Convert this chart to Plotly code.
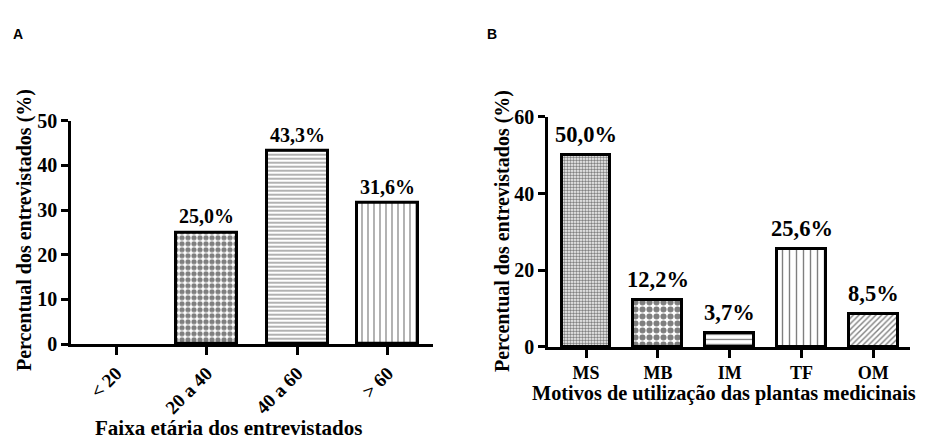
import plotly.graph_objects as go

# Panel A data
age_groups = ["< 20", "20 a 40", "40 a 60", "> 60"]
age_values = [0, 25.0, 43.3, 31.6]
age_labels = ["", "25,0%", "43,3%", "31,6%"]
age_ticks = [0, 10, 20, 30, 40, 50]

# Panel B data
reasons = ["MS", "MB", "IM", "TF", "OM"]
reason_values = [50.0, 12.2, 3.7, 25.6, 8.5]
reason_labels = ["50,0%", "12,2%", "3,7%", "25,6%", "8,5%"]
reason_ticks = [0, 20, 40, 60]

FONT = "Liberation Serif"
W, H = 926, 446
OFF = 8  # page body margin


def px(x):
    return (x - OFF) / W


def py(y):
    return 1 - (y - OFF) / H


# patterns (styles)
age_patterns = [".", ".", "-", "|"]
age_psize = [6, 6, 4, 6]
age_psol = [0.6, 0.6, 0.3, 0.2]
reason_patterns = [".", ".", "-", "|", "/"]
reason_psize = [3, 7, 5, 7, 4]
reason_psol = [0.55, 0.6, 0.25, 0.2, 0.35]

fig = go.Figure()

fig.add_trace(go.Bar(
    x=list(range(len(age_groups))), y=age_values, width=0.67,
    marker=dict(color="white",
                line=dict(color="black", width=[0 if v == 0 else 3 for v in age_values]),
                pattern=dict(shape=age_patterns, size=age_psize, solidity=age_psol,
                             fgcolor="black", bgcolor="white", fillmode="overlay")),
    xaxis="x", yaxis="y", showlegend=False, hoverinfo="skip"))

fig.add_trace(go.Bar(
    x=list(range(len(reasons))), y=reason_values, width=0.68,
    marker=dict(color="white", line=dict(color="black", width=3),
                pattern=dict(shape=reason_patterns, size=reason_psize, solidity=reason_psol,
                             fgcolor="black", bgcolor="white", fillmode="overlay")),
    xaxis="x2", yaxis="y2", showlegend=False, hoverinfo="skip"))

axis_common = dict(showline=True, linecolor="black", linewidth=2.5, ticks="outside",
                   tickcolor="black", tickwidth=2.5, showgrid=False, zeroline=False)

annotations = []
for i, (v, t) in enumerate(zip(age_values, age_labels)):
    if t:
        annotations.append(dict(x=i, y=v, xref="x", yref="y", text="<b>%s</b>" % t,
                                showarrow=False, yanchor="bottom", yshift=3,
                                font=dict(family=FONT, size=20, color="black")))
for i, (v, t) in enumerate(zip(reason_values, reason_labels)):
    annotations.append(dict(x=i, y=v, xref="x2", yref="y2", text="<b>%s</b>" % t,
                            showarrow=False, yanchor="bottom", yshift=6,
                            font=dict(family=FONT, size=22.5, color="black")))

# titles and panel letters
annotations += [
    dict(x=px(24), y=py(230), xref="paper", yref="paper", text="<b>Percentual dos entrevistados (%)</b>",
         textangle=-90, showarrow=False, xanchor="center", yanchor="middle",
         font=dict(family=FONT, size=20, color="black")),
    dict(x=px(502), y=py(231), xref="paper", yref="paper", text="<b>Percentual dos entrevistados (%)</b>",
         textangle=-90, showarrow=False, xanchor="center", yanchor="middle",
         font=dict(family=FONT, size=20, color="black")),
    dict(x=px(228), y=py(438), xref="paper", yref="paper", text="<b>Faixa etária dos entrevistados</b>",
         showarrow=False, xanchor="center", yanchor="middle",
         font=dict(family=FONT, size=21, color="black")),
    dict(x=px(724), y=py(402), xref="paper", yref="paper", text="<b>Motivos de utilização das plantas medicinais</b>",
         showarrow=False, xanchor="center", yanchor="middle",
         font=dict(family=FONT, size=20.3, color="black")),
    dict(x=px(18), y=py(24), xref="paper", yref="paper", text="<b>A</b>",
         showarrow=False, xanchor="center", yanchor="middle",
         font=dict(family="Liberation Sans", size=14, color="black")),
    dict(x=px(492), y=py(24), xref="paper", yref="paper", text="<b>B</b>",
         showarrow=False, xanchor="center", yanchor="middle",
         font=dict(family="Liberation Sans", size=14, color="black")),
]

fig.update_layout(
    width=W, height=H, margin=dict(l=0, r=0, t=0, b=0),
    paper_bgcolor="white", plot_bgcolor="white",
    xaxis=dict(domain=[px(71), px(433)], range=[-0.5, 3.5], tickmode="array",
               tickvals=list(range(len(age_groups))), ticktext=["<b>%s</b>" % g for g in age_groups],
               tickangle=-45, ticklen=8, anchor="y",
               tickfont=dict(family=FONT, size=19, color="black"), **axis_common),
    yaxis=dict(domain=[py(350), py(115)], range=[0, 50], tickmode="array",
               tickvals=age_ticks, ticktext=["<b>%d</b>" % t for t in age_ticks], ticklen=7,
               anchor="x", tickfont=dict(family=FONT, size=20, color="black"), **axis_common),
    xaxis2=dict(domain=[px(548), px(910)], range=[-0.53, 4.51], tickmode="array",
                tickvals=list(range(len(reasons))), ticktext=["<b>%s</b>" % r for r in reasons],
                ticklen=8, anchor="y2", tickfont=dict(family=FONT, size=18, color="black"), **axis_common),
    yaxis2=dict(domain=[py(353), py(111)], range=[0, 60], tickmode="array",
                tickvals=reason_ticks, ticktext=["<b>%d</b>" % t for t in reason_ticks], ticklen=7,
                anchor="x2", tickfont=dict(family=FONT, size=20, color="black"), **axis_common),
    annotations=annotations,
    bargap=0,
)

fig.write_html("out.html")
